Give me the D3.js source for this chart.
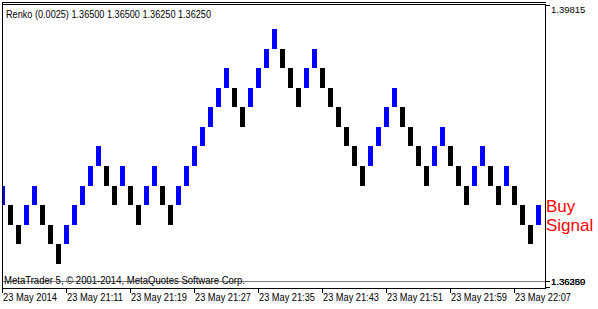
<!DOCTYPE html>
<html><head><meta charset="utf-8">
<script src="https://cdn.jsdelivr.net/npm/d3@7"></script>
<style>html,body{margin:0;padding:0;background:#fff;overflow:hidden}</style>
</head><body><svg id="c" width="598" height="309"></svg>
<script>
// Renko bricks (open, close), one per column, left to right
const brickOpen = [
 1.3650,1.3650,1.3625,1.3625,1.3650,1.3650,1.3625,1.3600,1.3600,1.3625,
 1.3650,1.3675,1.3700,1.3700,1.3675,1.3675,1.3675,1.3650,1.3650,1.3675,
 1.3675,1.3650,1.3650,1.3675,1.3700,1.3725,1.3750,1.3775,1.3800,1.3800,
 1.3775,1.3775,1.3800,1.3825,1.3850,1.3850,1.3825,1.3800,1.3800,1.3825,
 1.3825,1.3800,1.3775,1.3750,1.3725,1.3700,1.3700,1.3725,1.3750,1.3775,
 1.3775,1.3750,1.3725,1.3700,1.3700,1.3725,1.3725,1.3700,1.3675,1.3675,
 1.3700,1.3700,1.3675,1.3675,1.3675,1.3650,1.3625,1.3625];
const brickClose = [
 1.3675,1.3625,1.3600,1.3650,1.3675,1.3625,1.3600,1.3575,1.3625,1.3650,
 1.3675,1.3700,1.3725,1.3675,1.3650,1.3700,1.3650,1.3625,1.3675,1.3700,
 1.3650,1.3625,1.3675,1.3700,1.3725,1.3750,1.3775,1.3800,1.3825,1.3775,
 1.3750,1.3800,1.3825,1.3850,1.3875,1.3825,1.3800,1.3775,1.3825,1.3850,
 1.3800,1.3775,1.3750,1.3725,1.3700,1.3675,1.3725,1.3750,1.3775,1.3800,
 1.3750,1.3725,1.3700,1.3675,1.3725,1.3750,1.3700,1.3675,1.3650,1.3700,
 1.3725,1.3675,1.3650,1.3700,1.3650,1.3625,1.3600,1.3650];
const brickRange = [1.3575, 1.3875];
const timeTickCols = [0, 8, 16, 24, 32, 40, 48, 56, 64];
const timeTickLabels = ["23 May 2014","23 May 21:11","23 May 21:19","23 May 21:27",
  "23 May 21:35","23 May 21:43","23 May 21:51","23 May 21:59","23 May 22:07"];
const priceTicks = [1.39815, 1.36389, 1.36250];
const priceTickLabels = ["1.39815", "1.36389", "1.36250"];
const bidPrice = 1.36389;
const headerText = "Renko (0.0025) 1.36500 1.36500 1.36250 1.36250";
const footerText = "MetaTrader 5, \u00A9 2001-2014, MetaQuotes Software Corp.";
const signalLines = ["Buy", "Signal"];

const svg = d3.select("#c");
const L = 2, R = 545, T = 4, B = 288;
const font = "'Liberation Sans', Arial, sans-serif";

const x = d3.scaleLinear().domain([0, brickOpen.length - 1]).range([0, 8 * (brickOpen.length - 1)]);
const yB = d3.scaleLinear().domain(brickRange).range([264, 29]);
const yP = d3.scaleLinear().domain([bidPrice, 1.39815]).range([281, 5]);

svg.append("defs").append("clipPath").attr("id", "clip")
  .append("rect").attr("x", L + 1).attr("y", T + 1).attr("width", R - L - 1).attr("height", B - T - 1);

// bricks
svg.append("g").attr("clip-path", "url(#clip)").attr("shape-rendering", "crispEdges")
  .selectAll("rect").data(brickOpen).join("rect")
  .attr("x", (d, i) => x(i))
  .attr("width", 5)
  .attr("y", (d, i) => Math.round(yB(Math.max(d, brickClose[i]))))
  .attr("height", (d, i) => Math.round(yB(Math.min(d, brickClose[i]))) - Math.round(yB(Math.max(d, brickClose[i]))))
  .attr("fill", (d, i) => brickClose[i] > d ? "#0000ff" : "#000000");

// bid line
svg.append("line").attr("x1", L).attr("x2", R).attr("y1", Math.round(yP(bidPrice)) + 0.5).attr("y2", Math.round(yP(bidPrice)) + 0.5)
  .attr("stroke", "#808080").attr("stroke-width", 1);

// frame
const fr = svg.append("g").attr("stroke", "#000").attr("stroke-width", 1).attr("shape-rendering", "crispEdges");
fr.append("line").attr("x1", L).attr("x2", R + 1).attr("y1", 2.5).attr("y2", 2.5);
fr.append("line").attr("x1", L).attr("x2", R + 1).attr("y1", T + 0.5).attr("y2", T + 0.5);
fr.append("line").attr("x1", L + 0.5).attr("x2", L + 0.5).attr("y1", 2).attr("y2", B + 5);
fr.append("line").attr("x1", R + 0.5).attr("x2", R + 0.5).attr("y1", T).attr("y2", B + 1);
fr.append("line").attr("x1", L).attr("x2", R + 1).attr("y1", B + 0.5).attr("y2", B + 0.5);

// x ticks
const xt = svg.append("g");
timeTickCols.forEach((c, i) => {
  const px = x(c) + 2;
  xt.append("line").attr("x1", px + 0.5).attr("x2", px + 0.5).attr("y1", B).attr("y2", B + 5)
    .attr("stroke", "#000").attr("shape-rendering", "crispEdges");
  xt.append("text").attr("x", px + 1).attr("y", 301).text(timeTickLabels[i])
    .attr("font-family", font).attr("font-size", 10).attr("fill", "#000")
    .attr("textLength", i === 0 ? 54 : 56).attr("lengthAdjust", "spacingAndGlyphs");
});

// price ticks
const yt = svg.append("g");
priceTicks.forEach((p, i) => {
  const py = Math.min(Math.round(yP(p)), 287);
  yt.append("line").attr("x1", R).attr("x2", R + 5).attr("y1", py + 0.5).attr("y2", py + 0.5)
    .attr("stroke", "#000").attr("shape-rendering", "crispEdges");
  const ly = Math.min(yP(p), 281);
  yt.append("text").attr("x", 551).attr("y", ly + 3.5 + (i === 0 ? 4 : 0)).text(priceTickLabels[i])
    .attr("font-family", font).attr("font-size", 9.5).attr("fill", "#000");
});

// header & footer
svg.append("text").attr("x", 6).attr("y", 18).text(headerText)
  .attr("font-family", font).attr("font-size", 10).attr("fill", "#000")
  .attr("textLength", 205).attr("lengthAdjust", "spacingAndGlyphs");
svg.append("text").attr("x", 4).attr("y", 283.5).text(footerText)
  .attr("font-family", font).attr("font-size", 10).attr("fill", "#000")
  .attr("textLength", 241).attr("lengthAdjust", "spacingAndGlyphs");

// signal text
svg.append("g").selectAll("text").data(signalLines).join("text")
  .attr("x", 546).attr("y", (d, i) => 212 + i * 18.5).text(d => d)
  .attr("font-family", font).attr("font-size", 17).attr("fill", "#ff0000");
</script></body></html>
